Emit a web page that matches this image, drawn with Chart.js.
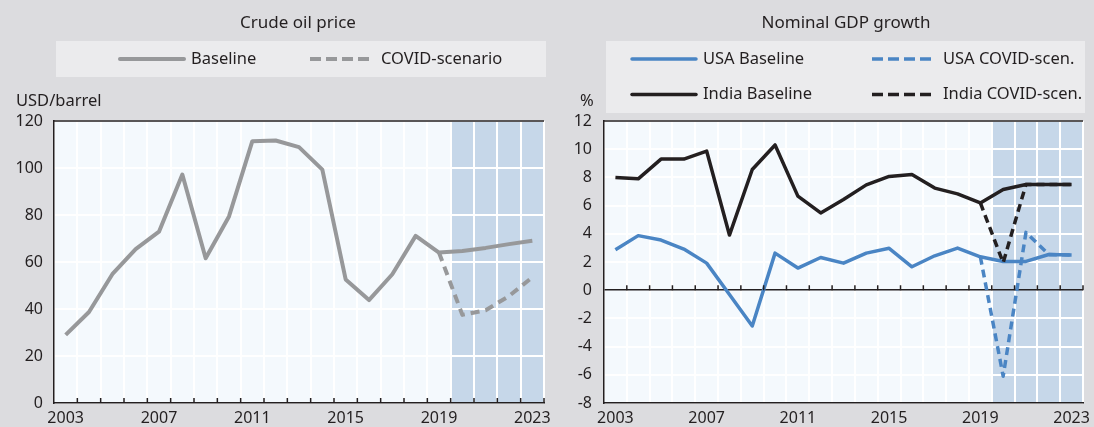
<!DOCTYPE html>
<html>
<head>
<meta charset="utf-8">
<script src="https://cdn.jsdelivr.net/npm/chart.js@4"></script>
<style>
  html, body { margin: 0; padding: 0; background: #dcdcdf; }
  #wrap { position: relative; width: 1094px; height: 427px; }
  .panel { position: absolute; top: 0; height: 427px; }
</style>
</head>
<body>
<div id="wrap">
  <div class="panel" style="left:0;width:560px"><canvas id="oil" width="560" height="427"></canvas></div>
  <div class="panel" style="left:547px;width:547px"><canvas id="gdp" width="547" height="427"></canvas></div>
</div>
<script>
// tick labels / categories
const years = ['2003', '2004', '2005', '2006', '2007', '2008', '2009', '2010', '2011', '2012', '2013',
               '2014', '2015', '2016', '2017', '2018', '2019', '2020', '2021', '2022', '2023'];

// crude oil price, USD/barrel
const oilBaseline = [29, 38.7, 54.8, 65.5, 72.9, 97.2, 61.6, 79.4, 111.4, 111.7, 108.9,
                     99.3, 52.6, 43.8, 54.8, 71.1, 64.0, 64.7, 66.0, 67.6, 69.0];
const oilCovid = [null, null, null, null, null, null, null, null, null, null, null,
                  null, null, null, null, null, 64.0, 37.5, 39.5, 45.5, 53.5];

// nominal GDP growth, %
const usaBaseline = [2.87, 3.87, 3.56, 2.92, 1.92, -0.3, -2.54, 2.63, 1.57, 2.32, 1.92,
                     2.63, 2.97, 1.66, 2.44, 2.99, 2.37, 2.04, 2.04, 2.53, 2.5];
const usaCovid = [null, null, null, null, null, null, null, null, null, null, null,
                  null, null, null, null, null, 2.37, -6.1, 4.1, 2.53, 2.5];
const indiaBaseline = [8.0, 7.9, 9.3, 9.3, 9.87, 3.91, 8.56, 10.3, 6.67, 5.48, 6.43,
                       7.47, 8.07, 8.2, 7.24, 6.83, 6.19, 7.14, 7.5, 7.5, 7.5];
const indiaCovid = [null, null, null, null, null, null, null, null, null, null, null,
                    null, null, null, null, null, 6.19, 1.95, 7.5, 7.5, 7.5];

const TXT = '#231f20';
const FONT = "'Noto Sans', sans-serif";
Chart.defaults.font.family = FONT;
Chart.defaults.font.size = 16;
Chart.defaults.color = TXT;

// background, shaded forecast years, title, unit and legend box
const decor = {
  id: 'decor',
  beforeDraw(chart, args, o) {
    const { ctx, chartArea: a, scales: { x } } = chart;
    const step = x.getPixelForValue(1) - x.getPixelForValue(0);
    ctx.save();
    ctx.fillStyle = '#f4f9fd';
    ctx.fillRect(a.left, a.top, a.right - a.left, a.bottom - a.top);
    const sx = x.getPixelForValue(years.indexOf(o.shadeFrom)) - step / 2;
    ctx.fillStyle = '#c6d7e9';
    ctx.fillRect(sx, a.top, a.right - sx, a.bottom - a.top);

    ctx.fillStyle = TXT;
    ctx.textBaseline = 'middle';
    ctx.textAlign = 'center';
    ctx.font = '17px ' + FONT;
    ctx.fillText(o.title, o.titleX, 23);
    ctx.textAlign = 'left';
    ctx.font = '16.5px ' + FONT;
    ctx.fillText(o.unit, o.unitX, 101);

    ctx.fillStyle = '#ebebed';
    ctx.fillRect(o.box[0], o.box[1], o.box[2], o.box[3]);
    o.items.forEach(it => {
      const ds = chart.data.datasets[it.ds];
      ctx.strokeStyle = ds.borderColor;
      ctx.lineWidth = ds.borderWidth;
      ctx.lineCap = ds.borderDash ? 'butt' : 'round';
      ctx.setLineDash(ds.borderDash ? [11, 5] : []);
      ctx.beginPath();
      ctx.moveTo(it.x, it.y);
      ctx.lineTo(it.x + 64, it.y);
      ctx.stroke();
      ctx.setLineDash([]);
      ctx.fillStyle = TXT;
      ctx.fillText(ds.label, it.x + 71, it.y);
    });
    ctx.restore();
  },
  afterDraw(chart, args, o) {
    const { ctx, chartArea: a, scales: { x, y } } = chart;
    const step = x.getPixelForValue(1) - x.getPixelForValue(0);
    const base = y.getPixelForValue(o.tickAt);
    ctx.save();
    ctx.strokeStyle = TXT;
    ctx.lineWidth = 1.5;
    ctx.beginPath();
    ctx.moveTo(a.left, a.top);
    ctx.lineTo(a.right, a.top);
    for (let i = 0; i < years.length; i++) {
      const px = x.getPixelForValue(i) + step / 2;
      ctx.moveTo(px, base);
      ctx.lineTo(px, base - 5);
    }
    ctx.stroke();
    ctx.restore();
  }
};

function xScale() {
  return {
    type: 'category',
    offset: true,
    grid: { color: '#ffffff', lineWidth: 2, offset: true, drawTicks: false },
    border: { color: TXT, width: 1.5 },
    ticks: {
      autoSkip: false, maxRotation: 0, padding: 6,
      callback: (v, i) => (i % 4 === 0 ? years[i] : '')
    },
    afterFit(s) { s.height = 24; s.paddingLeft = 0; s.paddingRight = 0; }
  };
}

new Chart(document.getElementById('oil'), {
  type: 'line',
  data: {
    labels: years,
    datasets: [
      { label: 'Baseline', data: oilBaseline, borderColor: '#97989a', borderWidth: 4 },
      { label: 'COVID-scenario', data: oilCovid, borderColor: '#97989a', borderWidth: 4, borderDash: [9, 6] }
    ]
  },
  options: {
    responsive: false,
    animation: false,
    events: [],
    elements: { point: { radius: 0 }, line: { tension: 0, borderJoinStyle: 'round' } },
    layout: { padding: { left: 0, top: 121, right: 16, bottom: 0 } },
    scales: {
      x: xScale(),
      y: {
        min: 0, max: 120,
        ticks: { stepSize: 20, padding: 11 },
        grid: { color: '#ffffff', lineWidth: 2, drawTicks: false },
        border: { color: TXT, width: 1.5 },
        afterFit(s) { s.width = 54; }
      }
    },
    plugins: {
      legend: { display: false },
      tooltip: { enabled: false },
      decor: {
        title: 'Crude oil price', titleX: 298,
        unit: 'USD/barrel', unitX: 16,
        shadeFrom: '2020', tickAt: 0,
        box: [56, 41, 490, 36],
        items: [{ ds: 0, x: 120, y: 59 }, { ds: 1, x: 310, y: 59 }]
      }
    }
  },
  plugins: [decor]
});

new Chart(document.getElementById('gdp'), {
  type: 'line',
  data: {
    labels: years,
    datasets: [
      { label: 'USA Baseline', data: usaBaseline, borderColor: '#4a85c4', borderWidth: 3.5, order: 3 },
      { label: 'USA COVID-scen.', data: usaCovid, borderColor: '#4a85c4', borderWidth: 3.5, borderDash: [8, 5], order: 2 },
      { label: 'India Baseline', data: indiaBaseline, borderColor: TXT, borderWidth: 3.5, order: 0 },
      { label: 'India COVID-scen.', data: indiaCovid, borderColor: TXT, borderWidth: 3.5, borderDash: [8, 5], order: 1 }
    ]
  },
  options: {
    responsive: false,
    animation: false,
    events: [],
    elements: { point: { radius: 0 }, line: { tension: 0, borderJoinStyle: 'round' } },
    layout: { padding: { left: 0, top: 121, right: 11, bottom: 0 } },
    scales: {
      x: xScale(),
      y: {
        min: -8, max: 12,
        ticks: { stepSize: 2, padding: 12 },
        grid: {
          color: c => (c.tick && c.tick.value === 0 ? TXT : '#ffffff'),
          lineWidth: c => (c.tick && c.tick.value === 0 ? 1.5 : 2), drawTicks: false
        },
        border: { color: TXT, width: 1.5 },
        afterFit(s) { s.width = 57; }
      }
    },
    plugins: {
      legend: { display: false },
      tooltip: { enabled: false },
      decor: {
        title: 'Nominal GDP growth', titleX: 299,
        unit: '%', unitX: 33,
        shadeFrom: '2020', tickAt: 0,
        box: [59, 41, 479, 72],
        items: [{ ds: 0, x: 85, y: 59 }, { ds: 1, x: 325, y: 59 },
                { ds: 2, x: 85, y: 94.5 }, { ds: 3, x: 325, y: 94.5 }]
      }
    }
  },
  plugins: [decor]
});
</script>
</body>
</html>
